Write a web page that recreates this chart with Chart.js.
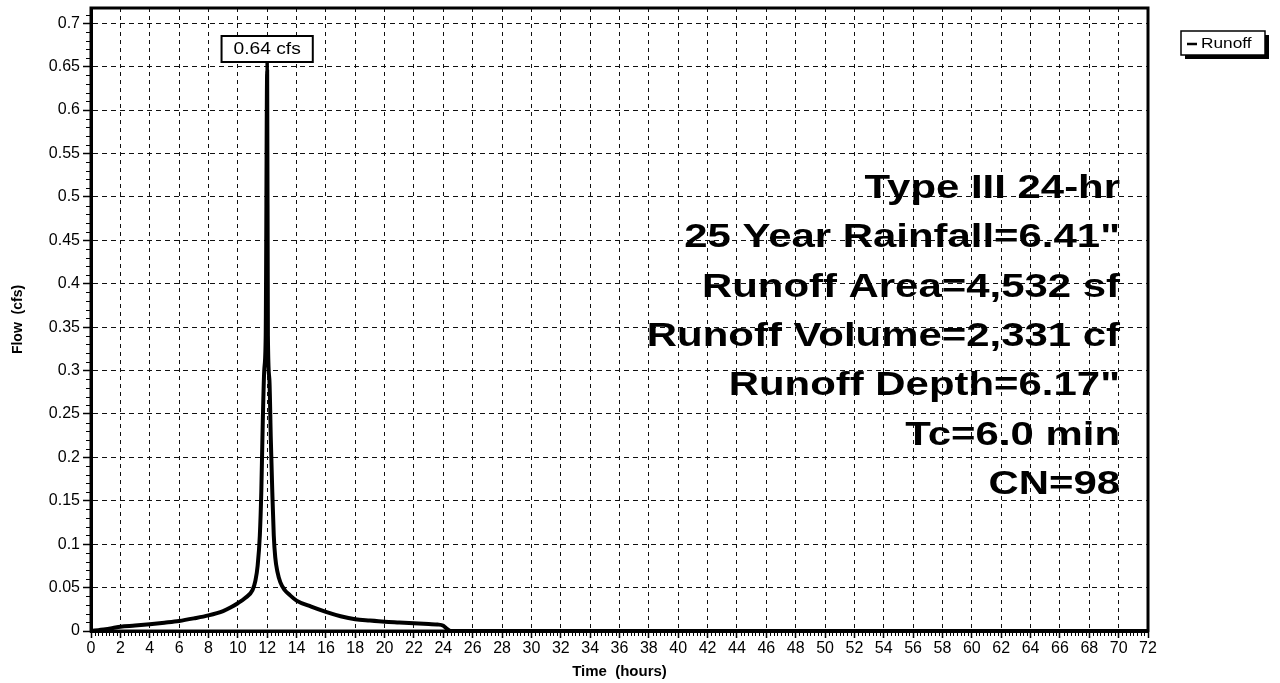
<!DOCTYPE html>
<html><head><meta charset="utf-8">
<script src="https://cdn.jsdelivr.net/npm/chart.js@4.4.1/dist/chart.umd.min.js"></script>
<style>html,body{margin:0;padding:0;background:#fff;}#wrap{width:1280px;height:683px;position:relative;}</style>
</head><body><div id="wrap"><canvas id="c" width="1280" height="683"></canvas></div>
<script>
// ---- data ----
const timeHours = [0, 0.5, 1, 1.5, 2, 3, 4, 5, 6, 7, 8, 9, 9.5, 10, 10.5, 11, 11.2, 11.35, 11.5, 11.6, 11.7, 11.8, 11.9, 12.0, 12.05, 12.15, 12.25, 12.35, 12.45, 12.55, 12.7, 12.9, 13.2, 13.5, 14, 15, 16, 17, 18, 19, 20, 21, 22, 23, 23.6, 24, 24.2, 24.5, 30, 72];
const runoffCfs = [0, 0.001, 0.002, 0.0035, 0.005, 0.0062, 0.0077, 0.0095, 0.0115, 0.0145, 0.018, 0.023, 0.027, 0.032, 0.038, 0.047, 0.058, 0.075, 0.11, 0.16, 0.24, 0.3, 0.34, 0.644, 0.34, 0.29, 0.22, 0.16, 0.11, 0.085, 0.068, 0.056, 0.047, 0.042, 0.035, 0.028, 0.022, 0.017, 0.0135, 0.012, 0.0107, 0.0098, 0.0089, 0.008, 0.0075, 0.006, 0.003, 0, 0, 0];
const xTickValues = [0,2,4,6,8,10,12,14,16,18,20,22,24,26,28,30,32,34,36,38,40,42,44,46,48,50,52,54,56,58,60,62,64,66,68,70,72];
const yTickValues = [0,0.05,0.1,0.15,0.2,0.25,0.3,0.35,0.4,0.45,0.5,0.55,0.6,0.65,0.7];
const yTickLabels = ['0','0.05','0.1','0.15','0.2','0.25','0.3','0.35','0.4','0.45','0.5','0.55','0.6','0.65','0.7'];
const seriesLabel = 'Runoff';
const peakLabel = '0.64 cfs';
const infoLines = ['Type III 24-hr', '25 Year Rainfall=6.41"', 'Runoff Area=4,532 sf', 'Runoff Volume=2,331 cf', 'Runoff Depth=6.17"', 'Tc=6.0 min', 'CN=98'];
const xTitle = 'Time  (hours)';
const yTitle = 'Flow  (cfs)';

const FONT = '"Liberation Sans", Arial, Helvetica, sans-serif';

const decor = {
  id: 'decor',
  afterDraw(chart) {
    const {ctx, chartArea: a, scales: {x, y}} = chart;
    ctx.save();
    // minor ticks
    ctx.strokeStyle = '#000';
    ctx.lineWidth = 1;
    ctx.beginPath();
    for (let i = 0; i <= 288; i++) {
      if (i % 8 === 0) continue;
      const px = Math.round(x.getPixelForValue(i * 0.25)) + 0.5;
      ctx.moveTo(px, a.bottom); ctx.lineTo(px, a.bottom + 5);
    }
    for (let j = 0; j <= 71; j++) {
      if (j % 5 === 0) continue;
      const py = Math.round(y.getPixelForValue(j * 0.01)) + 0.5;
      ctx.moveTo(a.left - 5, py); ctx.lineTo(a.left, py);
    }
    ctx.stroke();
    // frame
    ctx.lineWidth = 3;
    ctx.strokeRect(a.left, a.top, a.right - a.left, a.bottom - a.top);

    // peak label
    let pi = 0;
    runoffCfs.forEach((v, i) => { if (v > runoffCfs[pi]) pi = i; });
    const px = x.getPixelForValue(timeHours[pi]);
    const py = y.getPixelForValue(runoffCfs[pi]);
    ctx.font = '16px ' + FONT;
    const sx = 1.2;
    const tw = ctx.measureText(peakLabel).width * sx;
    const bw = tw + 24, bh = 26, by = 36, bx = px - bw / 2;
    ctx.lineWidth = 3.5;
    ctx.beginPath(); ctx.moveTo(px, py); ctx.lineTo(px, by + bh); ctx.stroke();
    ctx.fillStyle = '#fff';
    ctx.fillRect(bx, by, bw, bh);
    ctx.lineWidth = 2;
    ctx.strokeRect(bx, by, bw, bh);
    ctx.fillStyle = '#000';
    ctx.save();
    ctx.translate(px, by + bh / 2 + 1);
    ctx.scale(sx, 1);
    ctx.textAlign = 'center'; ctx.textBaseline = 'middle';
    ctx.fillText(peakLabel, 0, 0);
    ctx.restore();

    // info text block
    ctx.font = 'bold 33px ' + FONT;
    const baselines = [198, 247, 297, 346, 395, 445, 494];
    infoLines.forEach((t, i) => {
      ctx.save();
      ctx.translate(1120, baselines[i]);
      ctx.scale(1.27, 1);
      ctx.textAlign = 'right'; ctx.textBaseline = 'alphabetic';
      ctx.fillStyle = '#000';
      ctx.fillText(t, 0, 0);
      ctx.restore();
    });

    // legend
    const lx = 1181, ly = 31, lw = 84, lh = 24;
    ctx.fillStyle = '#000';
    ctx.fillRect(lx + 4, ly + 4, lw, lh);
    ctx.fillStyle = '#fff';
    ctx.fillRect(lx, ly, lw, lh);
    ctx.lineWidth = 1.5;
    ctx.strokeStyle = '#000';
    ctx.strokeRect(lx, ly, lw, lh);
    ctx.lineWidth = 2.5;
    ctx.beginPath(); ctx.moveTo(lx + 6, ly + 13); ctx.lineTo(lx + 16, ly + 13); ctx.stroke();
    ctx.font = '15px ' + FONT;
    ctx.save();
    ctx.translate(lx + 20, ly + 12.5);
    ctx.scale(1.15, 1);
    ctx.fillStyle = '#000';
    ctx.textAlign = 'left'; ctx.textBaseline = 'middle';
    ctx.fillText(seriesLabel, 0, 0);
    ctx.restore();
    ctx.restore();
  }
};

new Chart(document.getElementById('c'), {
  type: 'scatter',
  data: {
    datasets: [{
      label: seriesLabel,
      data: timeHours.map((t, i) => ({x: t, y: runoffCfs[i]})),
      showLine: true,
      borderColor: '#000',
      borderWidth: 4,
      pointRadius: 0,
      cubicInterpolationMode: 'monotone',
      fill: false
    }]
  },
  options: {
    responsive: false,
    devicePixelRatio: 1,
    animation: false,
    layout: {padding: {top: 8, right: 132, bottom: 0, left: 0}},
    plugins: {legend: {display: false}, tooltip: {enabled: false}},
    scales: {
      x: {
        type: 'linear', min: 0, max: 72,
        afterBuildTicks(s) { s.ticks = xTickValues.map(v => ({value: v})); },
        afterFit(s) { s.height = 52; s.paddingLeft = 0; s.paddingRight = 0; },
        ticks: {autoSkip: false, maxRotation: 0, minRotation: 0, padding: 1, color: '#000',
          font: {family: FONT, size: 16}, callback: (v) => String(v)},
        grid: {color: '#111', lineWidth: 1, tickColor: '#000', tickLength: 7, tickWidth: 1.5},
        border: {display: true, color: '#000', width: 3, dash: [4, 4]},
        title: {display: true, text: xTitle, color: '#000', padding: {top: 0, bottom: 2},
          font: {family: FONT, size: 15, weight: 'bold'}}
      },
      y: {
        type: 'linear', min: 0, max: 0.7175,
        afterBuildTicks(s) { s.ticks = yTickValues.map(v => ({value: v})); },
        afterFit(s) { s.width = 91; s.paddingTop = 0; s.paddingBottom = 0; },
        ticks: {autoSkip: false, padding: 3, color: '#000', font: {family: FONT, size: 16},
          callback: (v, i) => yTickLabels[i]},
        grid: {color: '#111', lineWidth: 1, tickColor: '#000', tickLength: 8, tickWidth: 1.5},
        border: {display: true, color: '#000', width: 3, dash: [5, 4]},
        title: {display: true, text: yTitle, color: '#000', padding: {top: 10, bottom: 0},
          font: {family: FONT, size: 14, weight: 'bold'}}
      }
    }
  },
  plugins: [decor]
});
</script>
</body></html>
